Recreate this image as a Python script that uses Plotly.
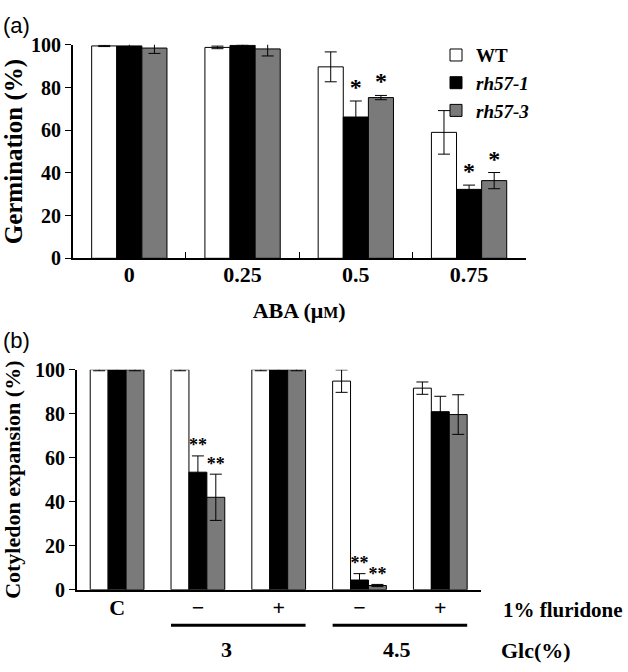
import plotly.graph_objects as go

# ---------------- data ----------------
series = ["WT", "rh57-1", "rh57-3"]
series_labels = ["WT", "<i>rh57-1</i>", "<i>rh57-3</i>"]
colors = ["#ffffff", "#000000", "#7a7a7a"]

# Panel (a): germination under ABA
aba_cats = ["0", "0.25", "0.5", "0.75"]
germ_wt = [99.5, 98.8, 89.7, 59.0]
germ_wt_err = [0.3, 0.6, 7.0, 10.2]
germ_r1 = [99.5, 99.8, 66.2, 32.3]
germ_r1_err = [2.0, 0.5, 7.5, 2.0]
germ_r3 = [98.5, 98.1, 75.3, 36.4]
germ_r3_err = [2.5, 3.3, 1.0, 3.8]
germ_sig_wt = ["", "", "", ""]
germ_sig_r1 = ["", "", "*", "*"]
germ_sig_r3 = ["", "", "*", "*"]

# Panel (b): cotyledon expansion
cot_cats = ["C", "3-", "3+", "4.5-", "4.5+"]
cot_ticktext = ["C", "\u2212", "+", "\u2212", "+"]
cot_wt = [100, 100, 100, 94.8, 91.6]
cot_wt_err = [0.5, 0.5, 0.5, 5.1, 2.8]
cot_r1 = [100, 53.4, 100, 4.4, 80.9]
cot_r1_err = [0.5, 7.4, 0.5, 2.9, 7.0]
cot_r3 = [100, 42.0, 100, 1.9, 79.6]
cot_r3_err = [0.5, 10.5, 0.5, 0.5, 9.0]
cot_sig_wt = ["", "", "", "", ""]
cot_sig_r1 = ["", "**", "", "**", ""]
cot_sig_r3 = ["", "**", "", "**", ""]

glc_labels = ["3", "4.5"]
fluridone_label = "1% fluridone"
glc_title = "Glc(%)"

# ---------------- layout helpers ----------------
W, H = 628, 672


def px(x):
    return x / W


def py(y):
    return 1 - y / H


SERIF = "Liberation Serif, Times New Roman, serif"
SANS = "Liberation Sans, Arial, sans-serif"
BARGAP = 0.335


def bold(size):
    return dict(family=SERIF, size=size, color="black", weight="bold")


fig = go.Figure()

panel_a = [(germ_wt, germ_wt_err, germ_sig_wt), (germ_r1, germ_r1_err, germ_sig_r1),
           (germ_r3, germ_r3_err, germ_sig_r3)]
panel_b = [(cot_wt, cot_wt_err, cot_sig_wt), (cot_r1, cot_r1_err, cot_sig_r1),
           (cot_r3, cot_r3_err, cot_sig_r3)]

for i, (vals, errs, sig) in enumerate(panel_a):
    fig.add_trace(go.Bar(
        x=aba_cats, y=vals, name=series_labels[i], offsetgroup=series[i],
        marker=dict(color=colors[i], line=dict(color="black", width=1)),
        error_y=dict(type="data", array=errs, color="black", thickness=1, width=6),
        cliponaxis=False, showlegend=True, hoverinfo="skip",
        xaxis="x", yaxis="y"))
for i, (vals, errs, sig) in enumerate(panel_a):
    fig.add_trace(go.Scatter(
        x=aba_cats, y=[v + e if s else None for v, e, s in zip(vals, errs, sig)],
        text=sig, mode="text", textposition="top center", offsetgroup=series[i],
        textfont=bold(24), cliponaxis=False, showlegend=False, hoverinfo="skip",
        xaxis="x", yaxis="y"))

for i, (vals, errs, sig) in enumerate(panel_b):
    fig.add_trace(go.Bar(
        x=cot_cats, y=vals, name=series_labels[i], offsetgroup=series[i],
        marker=dict(color=colors[i], line=dict(color="black", width=1)),
        error_y=dict(type="data", array=errs, color="black", thickness=1, width=6),
        cliponaxis=False, showlegend=False, hoverinfo="skip",
        xaxis="x2", yaxis="y2"))
for i, (vals, errs, sig) in enumerate(panel_b):
    fig.add_trace(go.Scatter(
        x=cot_cats, y=[v + e if s else None for v, e, s in zip(vals, errs, sig)],
        text=sig, mode="text", textposition="top center", offsetgroup=series[i],
        textfont=bold(18), cliponaxis=False, showlegend=False, hoverinfo="skip",
        xaxis="x2", yaxis="y2"))

common_y = dict(range=[0, 100], tickvals=[0, 20, 40, 60, 80, 100], ticks="outside",
                ticklen=6, tickwidth=1.2, tickcolor="black", showline=True,
                linecolor="black", linewidth=1.5, showgrid=False, zeroline=False,
                tickfont=bold(20), fixedrange=True)

fig.update_layout(
    width=W, height=H,
    margin=dict(l=0, r=0, t=0, b=0),
    paper_bgcolor="white", plot_bgcolor="white",
    barmode="group", bargap=BARGAP, bargroupgap=0,
    scattermode="group", scattergap=BARGAP,
    xaxis=dict(domain=[px(72.7), px(525.7)], anchor="y", type="category",
               showline=True, linecolor="black", linewidth=1.5, showgrid=False,
               ticks="inside", tickson="boundaries", ticklen=7, tickwidth=1.2,
               tickcolor="black", tickfont=bold(22), ticklabelstandoff=-4,
               title=dict(text="ABA (\u03bc<span style='font-size:16px'>M</span>)",
                          font=bold(22), standoff=16)),
    yaxis=dict(domain=[py(255.7), py(35)], anchor="x",
               title=dict(text="Germination (%)", font=bold(25), standoff=4),
               **common_y),
    xaxis2=dict(domain=[px(76.7), px(480.7)], anchor="y2", type="category",
                showline=True, linecolor="black", linewidth=1.5, showgrid=False,
                ticks="", tickvals=cot_cats, ticktext=cot_ticktext,
                tickfont=bold(22), ticklabelstandoff=-3),
    yaxis2=dict(domain=[py(598.3), py(370.8)], anchor="x2",
                title=dict(text="Cotyledon expansion (%)", font=bold(22), standoff=10),
                **common_y),
    legend=dict(x=px(436), y=py(26), xanchor="left", yanchor="top",
                font=bold(19), bgcolor="rgba(0,0,0,0)", tracegroupgap=0, itemwidth=30),
    showlegend=True,
)

# panel labels
fig.add_annotation(text="(a)", xref="paper", yref="paper", x=px(1), y=py(15),
                   xanchor="left", yanchor="middle", showarrow=False,
                   font=dict(family=SANS, size=22, color="black"))
fig.add_annotation(text="(b)", xref="paper", yref="paper", x=px(1), y=py(341),
                   xanchor="left", yanchor="middle", showarrow=False,
                   font=dict(family=SANS, size=22, color="black"))

# fluridone label
fig.add_annotation(text=fluridone_label, xref="paper", yref="paper",
                   x=px(625), y=py(619), xanchor="right", yanchor="middle",
                   showarrow=False, font=bold(21))

# glucose grouping lines and labels
half = (1 - BARGAP) / 2
for k, (a, b) in enumerate([(1, 2), (3, 4)]):
    fig.add_shape(type="line", xref="x2", yref="paper",
                  x0=a - half, x1=b + half, y0=py(635), y1=py(635),
                  line=dict(color="black", width=3))
    fig.add_annotation(text=glc_labels[k], xref="x2", yref="paper",
                       x=(a + b) / 2 - (0.14 if k == 0 else 0.03), y=py(660),
                       xanchor="center", yanchor="middle", showarrow=False,
                       font=bold(22))
fig.add_annotation(text=glc_title, xref="paper", yref="paper",
                   x=px(536), y=py(661), xanchor="center", yanchor="middle",
                   showarrow=False, font=bold(22))

fig.write_html("out.html", config={"displayModeBar": False},
               post_script="document.body.style.margin='0px';")
